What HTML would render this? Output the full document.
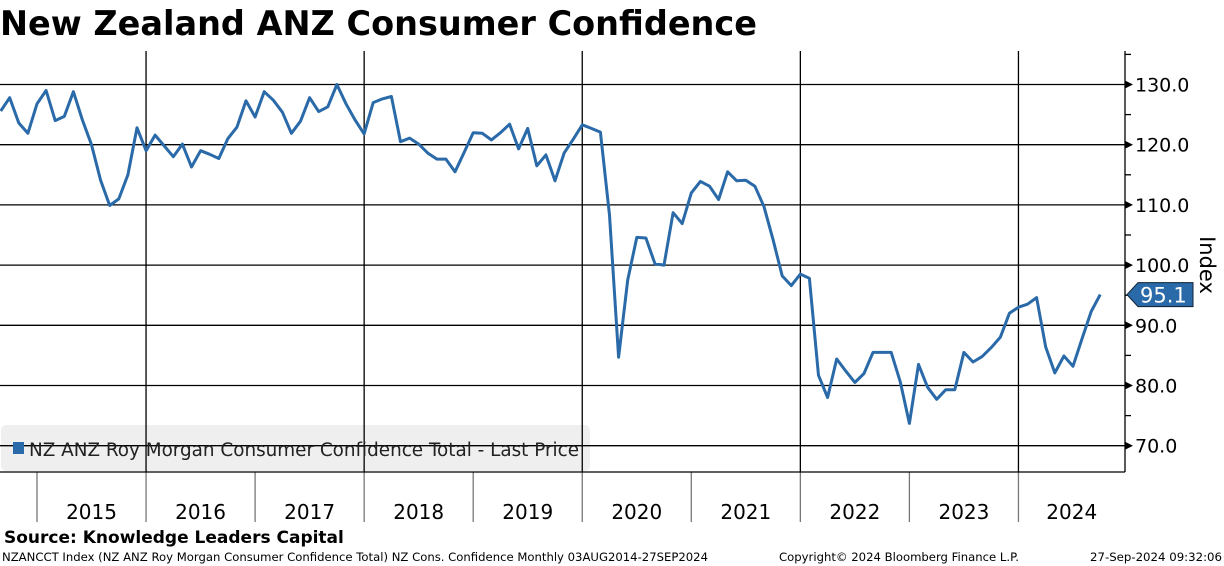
<!DOCTYPE html>
<html><head><meta charset="utf-8"><style>
html,body{margin:0;padding:0;background:#fff;width:1224px;height:566px;overflow:hidden}
svg{display:block;font-family:"DejaVu Sans","Liberation Sans",sans-serif}
</style></head><body>
<svg id="chart" width="1224" height="566" viewBox="0 0 1224 566">
<text x="0" y="35" font-size="34" font-weight="bold" textLength="757" lengthAdjust="spacingAndGlyphs">New Zealand ANZ Consumer Confidence</text>
<rect x="1" y="425" width="589" height="46" rx="5" fill="#efefef"/>
<g id="grid"></g>
<g id="axes"></g>
<rect x="13" y="442" width="11" height="12" fill="#2a6aa8"/>
<text x="29" y="456" font-size="18.5" fill="#222" textLength="550" lengthAdjust="spacingAndGlyphs">NZ ANZ Roy Morgan Consumer Confidence Total - Last Price</text>
<g id="series"></g>
<text transform="translate(1200,265) rotate(90)" font-size="21" text-anchor="middle">Index</text>
<text x="4" y="543" font-size="17" font-weight="bold">Source: Knowledge Leaders Capital</text>
<text x="2" y="561" font-size="11.5" textLength="706" lengthAdjust="spacingAndGlyphs">NZANCCT Index (NZ ANZ Roy Morgan Consumer Confidence Total) NZ Cons. Confidence  Monthly 03AUG2014-27SEP2024</text>
<text x="779" y="561" font-size="11.5" textLength="240" lengthAdjust="spacingAndGlyphs">Copyright© 2024 Bloomberg Finance L.P.</text>
<text x="1090" y="561" font-size="11.5" textLength="132" lengthAdjust="spacingAndGlyphs">27-Sep-2024 09:32:06</text>
</svg>
<script>
const years = [2015,2016,2017,2018,2019,2020,2021,2022,2023,2024];
const yTicks = [70,80,90,100,110,120,130];
const yTickLabels = ["70.0","80.0","90.0","100.0","110.0","120.0","130.0"];
const startYear = 2014, startMonth = 8;
const values = [
125.6,127.8,123.6,121.9,126.8,
129.0,124.0,124.7,128.8,124.1,120.0,114.1,109.9,111.0,115.0,122.8,119.0,
121.6,119.8,118.0,120.1,116.3,119.0,118.4,117.7,121.0,122.9,127.3,124.6,
128.8,127.4,125.4,121.9,123.9,127.8,125.5,126.3,130.0,126.8,124.1,121.8,
127.0,127.6,128.0,120.5,121.1,120.1,118.6,117.6,117.6,115.5,118.7,122.0,
121.9,120.8,122.0,123.4,119.3,122.7,116.5,118.3,114.0,118.6,120.9,123.3,
122.7,122.1,108.3,84.7,97.5,104.6,104.5,100.2,100.0,108.7,106.9,112.0,
113.9,113.1,110.9,115.5,114.0,114.1,113.1,109.7,104.2,98.2,96.6,98.5,
97.8,81.7,78.0,84.4,82.4,80.5,82.0,85.5,85.5,85.5,80.6,73.7,
83.5,79.7,77.7,79.3,79.3,85.5,83.9,84.8,86.3,88.0,92.0,93.0,
93.5,94.6,86.4,82.1,84.9,83.2,87.8,92.3,95.1
];
const lastLabel = "95.1";

const NS="http://www.w3.org/2000/svg";
const X0=37, YW=109.05, R=1125, BOT=472, TOP=51;
const xYear = y => X0 + (y-2015)*YW;
const xIdx = i => { const m = startMonth + i; return xYear(startYear) + m*YW/12; };
const yv = v => 84.5 + (130-v)*6.02;
function mk(tag, attrs, parent){const e=document.createElementNS(NS,tag);for(const k in attrs)e.setAttribute(k,attrs[k]);parent.appendChild(e);return e;}
const grid=document.getElementById('grid'), axes=document.getElementById('axes'), ser=document.getElementById('series');

yTicks.forEach((t,i)=>{
  const l=mk('line',{x1:0,x2:R,y1:yv(t),y2:yv(t),stroke:'#000','stroke-width':1.3},grid);
  
  
  const a=mk('path',{d:`M${R} ${yv(t)-4}L${R+8} ${yv(t)}L${R} ${yv(t)+4}Z`,fill:'#000'},axes);
  
  
  const tx=mk('text',{x:R+10,y:yv(t)+7,'font-size':19},axes);
  tx.textContent=yTickLabels[i];
  
  
  const mt=t+5; if(mt<=135){const m=mk('line',{x1:R,x2:R+6,y1:yv(mt),y2:yv(mt),stroke:'#000','stroke-width':1.3},axes);
  
  }
});
years.forEach(y=>{
  const x=xYear(y);
  if(y%2===0){const g=mk('line',{x1:x,x2:x,y1:TOP,y2:BOT,stroke:'#000','stroke-width':1.3},grid);
    
    }
  const s=mk('line',{x1:x,x2:x,y1:BOT,y2:522,stroke:'#777','stroke-width':1.3},axes);
  
  
  const xe=Math.min(xYear(y+1),R);
  const tx=mk('text',{x:(x+xe)/2,y:519,'font-size':20,'text-anchor':'middle'},axes);
  tx.textContent=y;
  
  
});
const ax=mk('line',{x1:R,x2:R,y1:TOP,y2:BOT,stroke:'#000','stroke-width':1.3},axes);


const bx=mk('line',{x1:0,x2:R,y1:BOT,y2:BOT,stroke:'#000','stroke-width':1.3},axes);



const pts=values.map((v,i)=>xIdx(i).toFixed(1)+','+yv(v).toFixed(1)).join(' ');
const pl=mk('polyline',{points:pts,fill:'none',stroke:'#2a6aa8','stroke-width':3,'stroke-linejoin':'round'},ser);



const ly=yv(values[values.length-1]);
const tag=mk('path',{d:`M${R+2} ${ly}L${R+13} ${ly-12}L${R+68} ${ly-12}L${R+68} ${ly+12}L${R+13} ${ly+12}Z`,fill:'#2a6aa8',stroke:'#123',"stroke-width":1},axes);


const lt=mk('text',{x:R+15,y:ly+8,'font-size':21,fill:'#fff'},axes);
lt.textContent=lastLabel;


</script>
</body></html>
